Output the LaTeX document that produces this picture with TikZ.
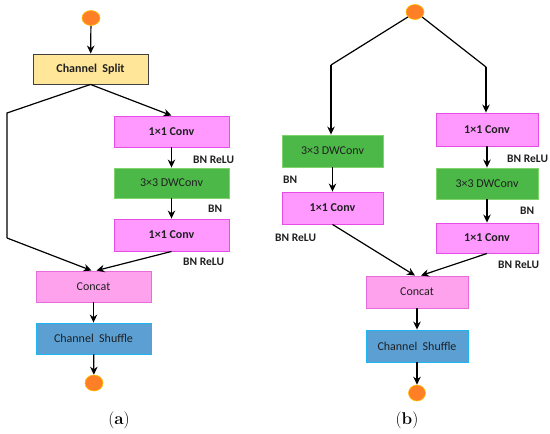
\documentclass[tikz,border=0pt]{standalone}
\usepackage{fontspec}
\newfontfamily\calfont{Carlito}
\usetikzlibrary{arrows.meta,calc,shapes.geometric}
\definecolor{splitfill}{HTML}{FFE699}
\definecolor{splitdraw}{HTML}{404040}
\definecolor{convfill}{HTML}{FF99FF}
\definecolor{convdraw}{HTML}{E64CE6}
\definecolor{dwfill}{HTML}{4CB848}
\definecolor{dwdraw}{HTML}{80D46C}
\definecolor{catfill}{HTML}{FFA2EE}
\definecolor{catdraw}{HTML}{E76BD8}
\definecolor{shuffill}{HTML}{5B9FD3}
\definecolor{shufdraw}{HTML}{1FB5F0}
\definecolor{dotfill}{HTML}{FF7F27}
\definecolor{dotdraw}{HTML}{FFC000}
\definecolor{txt}{HTML}{202020}
\tikzset{
  x=1pt, y=-1pt,
  box/.style={rectangle, inner sep=0pt, line width=0.9pt, text=txt, font=\calfont\fontsize{12}{14}\selectfont},
  splitbox/.style={box, fill=splitfill, draw=splitdraw, font=\calfont\bfseries\fontsize{12}{14}\selectfont},
  convbox/.style={box, fill=convfill, draw=convdraw, font=\calfont\bfseries\fontsize{12}{14}\selectfont},
  dwbox/.style={box, fill=dwfill, draw=dwdraw},
  catbox/.style={box, fill=catfill, draw=catdraw},
  shufbox/.style={box, fill=shuffill, draw=shufdraw},
  dot/.style={ellipse, fill=dotfill, draw=dotdraw, line width=0.6pt, inner sep=0pt, minimum width=18pt, minimum height=15pt},
  lab/.style={anchor=west, inner sep=0pt, text=txt, font=\calfont\bfseries\fontsize{11.5}{13}\selectfont},
  captext/.style={inner sep=0pt, font=\fontsize{17}{19}\selectfont},
  conn/.style={line width=1.2pt, black},
  arr/.style={conn, -{Stealth[length=8pt,width=7.5pt]}}
}
\begin{document}
\begin{tikzpicture}
\useasboundingbox (0,0) rectangle (550,434);
% ---------- panel (a) ----------
\node[dot] (ain) at (91,18) {};
\node[splitbox, minimum width=115pt, minimum height=30pt] (split) at (90.5,69) {Channel\ \ Split};
\node[convbox, minimum width=115pt, minimum height=31pt] (aconv1) at (171.5,131.5) {1×1 Conv};
\node[dwbox, minimum width=115pt, minimum height=30pt] (adw) at (171.5,183) {3×3 DWConv};
\node[convbox, minimum width=115pt, minimum height=32pt] (aconv2) at (171.5,235) {1×1 Conv};
\node[catbox, minimum width=115pt, minimum height=31pt] (acat) at (93.5,286.5) {Concat};
\node[shufbox, minimum width=115pt, minimum height=31pt] (ashuf) at (93.5,338.5) {Channel\ \ Shuffle};
\node[dot, minimum width=18pt, minimum height=16pt] (aout) at (94,383) {};
\coordinate (la1) at (7,113);
\coordinate (la2) at (7,238);
\node[lab] (alab1) at (193,160) {BN ReLU};
\node[lab] (alab2) at (208,209) {BN};
\node[lab] (alab3) at (183,262) {BN ReLU};
\node[captext] (capa) at (119,420) {(\textbf{a})};
\draw[arr] (ain) -- (split);
\draw[arr] (split.south) -- (aconv1.north);
\draw[conn] (split.south) -- (la1) -- (la2);
\draw[arr] (la2) -- ($(acat.north)+(-2,0)$);
\draw[arr] (aconv1) -- (adw);
\draw[arr] (adw) -- (aconv2);
\draw[arr] (aconv2.south) -- ($(acat.north)+(3,0)$);
\draw[arr] (acat) -- (ashuf);
\draw[arr] (ashuf) -- (aout);
% ---------- panel (b) ----------
\node[dot] (bin) at (415,12) {};
\node[dwbox, minimum width=101pt, minimum height=32pt] (bdwl) at (332.5,151) {3×3 DWConv};
\node[convbox, minimum width=101pt, minimum height=32pt] (bconvl) at (332.5,208) {1×1 Conv};
\node[convbox, minimum width=102pt, minimum height=33pt] (bconv1) at (487,129.5) {1×1 Conv};
\node[dwbox, minimum width=102pt, minimum height=31pt] (bdw) at (487,183.5) {3×3 DWConv};
\node[convbox, minimum width=102pt, minimum height=30pt] (bconv2) at (487,238) {1×1 Conv};
\node[catbox, minimum width=102pt, minimum height=32pt] (bcat) at (417,292) {Concat};
\node[shufbox, minimum width=102pt, minimum height=32pt] (bshuf) at (417,346) {Channel\ \ Shuffle};
\node[dot, minimum width=17pt, minimum height=16pt] (bout) at (417,393) {};
\coordinate (lb1) at (331,65);
\coordinate (rb1) at (486,67);
\node[lab] (blab1) at (283,180) {BN};
\node[lab] (blab2) at (275,238) {BN ReLU};
\node[lab] (blab3) at (507,159) {BN ReLU};
\node[lab] (blab4) at (520,211) {BN};
\node[lab] (blab5) at (498,265) {BN ReLU};
\node[captext] (capb) at (407,420) {(\textbf{b})};
\draw[conn] (bin.215) -- (lb1);
\draw[arr] (lb1) -- (lb1 |- bdwl.north);
\draw[conn] (bin.325) -- (rb1);
\draw[arr] (rb1) -- (rb1 |- bconv1.north);
\draw[arr] (bdwl) -- (bconvl);
\draw[arr] (bconv1) -- (bdw);
\draw[arr] (bdw) -- (bconv2);
\draw[arr] (bconvl.south) -- ($(bcat.north)+(-2,0)$);
\draw[arr] (bconv2.south) -- ($(bcat.north)+(4,0)$);
\draw[arr] (bcat) -- (bshuf);
\draw[arr] (bshuf) -- (bout);
\end{tikzpicture}
\end{document}
